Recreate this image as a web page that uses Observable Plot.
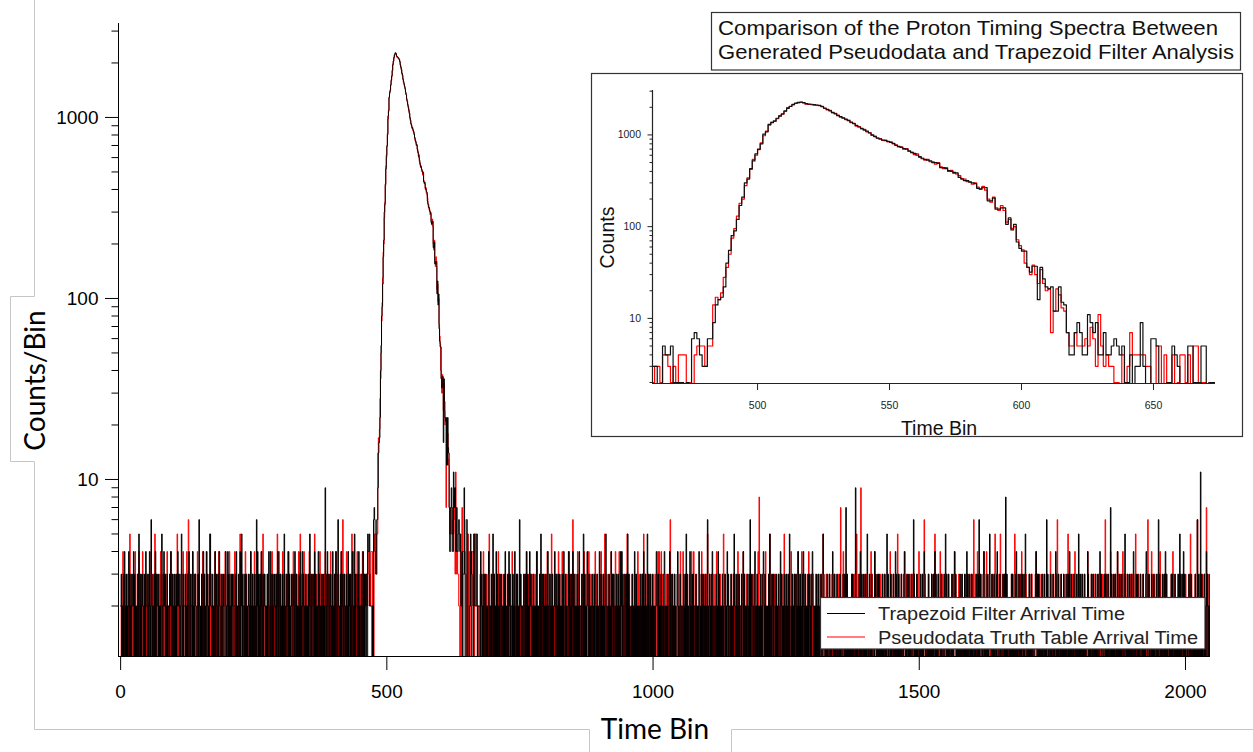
<!DOCTYPE html>
<html>
<head>
<meta charset="utf-8">
<script src="https://cdn.jsdelivr.net/npm/d3@7"></script>
<script src="https://cdn.jsdelivr.net/npm/@observablehq/plot@0.6"></script>
<style>
  html, body { margin: 0; padding: 0; background: #fff; }
  body { width: 1253px; height: 752px; overflow: hidden; position: relative; font-family: "Liberation Sans", Arial, sans-serif; }
  #main, #inset, #overlay { position: absolute; }
  #main { left: 0; top: 0; }
  #inset { left: 591px; top: 73px; background: #fff; }
  #overlay { left: 0; top: 0; pointer-events: none; }
</style>
</head>
<body>
<div id="main"></div>
<div id="inset"></div>
<svg id="overlay" width="1253" height="752" xmlns="http://www.w3.org/2000/svg"></svg>
<script>
// ---------------- DATA ----------------
const seriesNames = ["Trapezoid Filter Arrival Time", "Pseudodata Truth Table Arrival Time"];
const titleLines = ["Comparison of the Proton Timing Spectra Between", "Generated Pseudodata and Trapezoid Filter Analysis"];

// Background counts per bin (one base-36 character per bin), bins 0..459
const trapLeftNoise = [
  "2312031421 3120241302 1322413021 2031521312 3212031422",
  "1302412631 2213041322 3120213521 1423021302 2132401312",
  "3021312423 1203521302 2312031241 1322041213 3210231621",
  "2031241302 1423120352 2130213412 3021342103 1232013421",
  "2413021312 3102231402 1320412531 2213031202 3120421312",
  "1302162413 2031421302 3212031241 1402312032 2130241321",
  "3120312502 1232041312 2301321421 3120231402 1423021312",
  "2031252130 1320413021 2413021302 3120931241 1302312041",
  "2130421362 1203412302 3021321413 2130241205 1322031412",
  "2031241302"
];
const truthLeftNoise = [
  "1203412302 2130213512 3201321402 1320412031 2413021302",
  "3021312403 1302512031 2130241312 3201321402 1230413021",
  "2130215302 3021312401 1320413612 2031241302 3102413021",
  "1230412302 2413021503 3120213402 1302412031 2031324102",
  "3102412031 1320413021 2031512302 3120413210 1302412031",
  "2413021302 1302413512 3120213021 2031412302 1320513402",
  "3021412031 1302413021 2031421302 3120412503 1203412031",
  "2130412302 3021512031 1302412030 2031412302 3120421302",
  "1302412031 2130412602 3021412031 1302514021 2031412302",
  "3120412031"
];

// Proton peak, bins 460..673
const peakStartBin = 460;
const trapPeak = [
  3,3,1,1,5,4,4,5,2,2,
  2,2,1,2,1,6,7,6,4,3,
  3,6,6,9,14,16,17,22,40,55,
  80,90,120,170,210,300,330,430,520,620,
  700,800,1020,1080,1300,1360,1420,1520,1600,1700,
  1830,1950,2050,2150,2220,2260,2280,2250,2190,2170,
  2160,2140,2120,2100,2030,1960,1900,1830,1760,1700,
  1620,1580,1520,1490,1430,1380,1330,1270,1220,1180,
  1130,1100,1050,1000,960,920,900,880,866,850,
  830,810,770,750,730,710,700,670,640,630,
  600,580,550,540,530,520,500,500,490,440,
  440,430,408,400,390,385,345,330,318,318,
  305,300,295,262,258,267,267,191,191,205,
  155,155,160,160,106,125,92,106,68,58,
  54,54,36,32,37,37,16,36,27,22,
  21,22,12,12,22,15,14,7,4,4,
  7,9,7,4,4,11,9,7,9,4,
  4,7,4,4,5,6,5,4,5,2,
  2,4,1,3,3,9,3,1,1,6,
  6,5,1,1,1,2,2,5,4,3,
  1,1,1,5,5,2,2,2,5,5,
  1,2,2,2
];
const truthPeak = [
  2,3,3,2,4,4,3,2,3,2,
  4,4,4,2,2,1,4,5,5,5,
  3,5,5,14,17,16,19,28,36,50,
  75,95,130,180,200,280,340,420,540,600,
  690,820,980,1100,1280,1380,1400,1500,1620,1680,
  1800,1980,2040,2120,2200,2240,2260,2230,2160,2150,
  2140,2110,2100,2080,2050,1940,1880,1850,1740,1720,
  1640,1560,1540,1470,1450,1360,1340,1250,1230,1160,
  1150,1080,1060,990,970,930,910,870,880,840,
  840,800,780,740,740,700,710,660,650,610,
  620,570,560,530,540,510,510,480,500,450,
  430,440,400,410,380,375,360,335,330,310,
  310,290,300,270,255,275,250,200,185,210,
  160,150,170,150,112,120,96,100,72,62,
  56,40,36,30,38,30,24,34,24,20,
  21,7,12,21,18,13,12,7,5,5,
  7,5,5,5,6,5,8,6,3,11,
  5,3,4,3,3,2,2,1,4,1,
  3,7,4,4,4,4,4,3,3,1,
  1,5,5,1,4,1,2,4,1,2,
  4,4,2,4,1,5,5,2,2,2,
  1,2,2,1
];

// Background counts per bin after the peak, bins 674..end
const trapRightNoise = [
  "2142312031 1320213412 2031251302 1413021302 3102213041",
  "1203142312 2130214013 1302162312 2013213041 3120423102",
  "1302021412 2103150231 3021302142 1230213012 2402312031",
  "3120213041 1302102413 2031241302 1213021402 2130150312",
  "1243213021 2310213012 1302142031 2130213520 1203120413",
  "2031021312 1320142413 2103213051 3120120312 1402312021",
  "2130213142 1302150312 3021302102 1243213021 2310213412",
  "1203102413 2130213021 1342102312 2013213051 3120140213",
  "1302213021 2143120312 3021302162 1230213402 2102312041",
  "3120213021 1302142312 2031201352 1213021302 2130140312",
  "1203213061 2310213412 1302102031 2134213021 1203150213",
  "2031021312 1320142312 2103213021 3150120312 1302312041",
  "2130213142 1302120312 3021342102 1203213021 2310253012",
  "1203102312 2134213021 1302102312 2013213071 3120120213",
  "1302219021 2103140312 3021302152 1230213012 2142312031",
  "3120213021 1302152312 2031201302 1413021302 2130120342",
  "1203213021 2310263012 1302102031 2130243021 1203120213",
  "2031041312 1320102312 2103253021 3120120312 1342312021",
  "2130213102 1302140312 3021302102 1203213061 2310213412",
  "1203102352 2130213021 1342102312 2013213081 3120120213",
  "1302213041 2103120312 3021352102 1230213012 2102342031",
  "3120213021 1302162312 2031201302 1243021302 2130120312",
  "1203213041 2310213012 1302152031 2130213021 1243120213",
  "2031021312 1320142312 2103213021 3120170312 1302312041",
  "2130213102 1352120312 3021302142 1203213021 2310213012",
  "1243102312 2130213021 1302162312 2013213041 3120120213",
  "1302213021 2103150312 3041302102 1230213012 2102312061",
  "3120b13021 1302142312 2031201302"
];
const truthRightNoise = [
  "1302102413 2031201352 1213021302 2130140312 3021302102",
  "2130213021 1402312021 3120120312 2103213041 1320102312",
  "3021302142 1203213021 2310213412 1302150312 2130213142",
  "1203142312 2013213041 1302162312 3120423102 2130214013",
  "2031241302 1213021402 3120213041 2130150312 1302102413",
  "1302142031 1243213021 2130213520 2310213012 1203120413",
  "2103213051 2031021312 3120120312 1320142413 1402312021",
  "3021302162 1302213021 1230213402 2143120312 2102312041",
  "1342102312 1203102413 2013213051 2130213021 3120140213",
  "2031201352 3120213021 1213021302 1302142312 2130140312",
  "1302102031 1203213021 2134283021 2310213412 1203150213",
  "2103213021 2031021312 3150120312 1320142312 1302312041",
  "3021342102 2130213142 1203213021 1302120312 2310253012",
  "1302102312 1203102312 2013213071 2134213021 3120120213",
  "3021302152 1302219021 1230213012 2103140312 2142312031",
  "2031201302 3120213021 1413021302 1302152312 2130120342",
  "1302102031 1203213021 2130243021 2310263012 1203120213",
  "2103253021 2031041312 3120120312 1320102312 1342312021",
  "3021302102 2130213102 1203213061 1302140312 2310213412",
  "1342102312 1203102352 2013213051 2130213021 3120120213",
  "3021352102 1302213041 1230213012 2103120312 2102342031",
  "2031201302 3120213021 1243021302 1302162312 2130120312",
  "1302152031 1203213041 2130213021 2310213012 1243120213",
  "2103213021 2031021312 3120160312 1320142312 1302312041",
  "3021302142 2130213102 1203213021 1352120312 2310213012",
  "1302162312 1243102312 2013213041 2130213021 3120120213",
  "3041302102 1302213021 1230213012 2103150312 2102312061",
  "2031201302 1302172312 3120213021"
];

// Axis ticks
const mainXTicks = [0, 500, 1000, 1500, 2000];
const mainYLabelTicks = [10, 100, 1000];
const mainYMinorTicks = [2,3,4,5,6,7,8,9,20,30,40,50,60,70,80,90,200,300,400,500,600,700,800,900,2000,3000];
const insetXTicks = [500, 550, 600, 650];
const insetYLabelTicks = [10, 100, 1000];
const insetYMinorTicks = [2,3,4,5,6,7,8,9,20,30,40,50,60,70,80,90,200,300,400,500,600,700,800,900,2000,3000];

// ---------------- BUILD ----------------
function decode(lines) {
  return lines.join("").replace(/\s+/g, "").split("").map(c => parseInt(c, 36));
}
function build(left, peak, right) {
  const out = [];
  decode(left).forEach((v, i) => { if (i < peakStartBin) out.push({bin: i, v}); });
  peak.forEach((v, i) => out.push({bin: peakStartBin + i, v}));
  const rs = peakStartBin + peak.length;
  decode(right).forEach((v, i) => out.push({bin: rs + i, v}));
  return out;
}
const trap = build(trapLeftNoise, trapPeak, trapRightNoise);
const truth = build(truthLeftNoise, truthPeak, truthRightNoise);
const yv = d => Math.max(d.v, 0.5);
const fmt = d => String(d);

// ---------------- MAIN CHART ----------------
const mainXDomain = [-4, 2047];
const mainYDomain = [1.052, 3304];
const main = Plot.plot({
  width: 1253, height: 752,
  marginLeft: 118, marginRight: 43, marginTop: 23, marginBottom: 96,
  style: {background: "transparent", fontFamily: "'Liberation Sans', Arial, sans-serif", color: "#000", overflow: "visible"},
  x: {domain: mainXDomain, label: null},
  y: {type: "log", domain: mainYDomain, label: null},
  marks: [
    Plot.line(truth, {x: "bin", y: yv, curve: "step-after", stroke: "#ff0000", strokeWidth: 1, clip: true}),
    Plot.line(trap, {x: "bin", y: yv, curve: "step-after", stroke: "#000", strokeWidth: 1, clip: true}),
    Plot.axisY({ticks: mainYMinorTicks, tickSize: 6.5, fill: "none", label: null}),
    Plot.axisY({ticks: mainYLabelTicks, tickSize: 13, tickPadding: 7, fontSize: 19, tickFormat: fmt, label: null}),
    Plot.axisX({ticks: mainXTicks, tickSize: 14, tickPadding: 14, fontSize: 19, tickFormat: fmt, label: null}),
    Plot.ruleX([mainXDomain[0]], {stroke: "#000"}),
    Plot.ruleY([mainYDomain[0]], {stroke: "#000"})
  ]
});
document.getElementById("main").appendChild(main);

// ---------------- INSET ----------------
const insetXDomain = [460.2, 673.5];
const insetYDomain = [1.95, 3050];
const inset = Plot.plot({
  width: 652, height: 364,
  marginLeft: 61, marginRight: 28, marginTop: 17, marginBottom: 54,
  style: {background: "#fff", fontFamily: "'Liberation Sans', Arial, sans-serif", color: "#222", overflow: "visible"},
  x: {domain: insetXDomain, label: null},
  y: {type: "log", domain: insetYDomain, label: null},
  marks: [
    Plot.line(truth, {x: "bin", y: yv, curve: "step-after", stroke: "#ff0000", strokeWidth: 1.2, clip: true}),
    Plot.line(trap, {x: "bin", y: yv, curve: "step-after", stroke: "#111", strokeWidth: 1.2, clip: true}),
    Plot.axisY({ticks: insetYMinorTicks, tickSize: 2.5, fill: "none", label: null}),
    Plot.axisY({ticks: insetYLabelTicks, tickSize: 4.5, tickPadding: 7, fontSize: 10.5, tickFormat: fmt, label: null}),
    Plot.axisX({ticks: insetXTicks, tickSize: 7, tickPadding: 11, fontSize: 10.5, tickFormat: fmt, label: null}),
    Plot.ruleX([insetXDomain[0]], {stroke: "#222", strokeWidth: 1.2}),
    Plot.ruleY([insetYDomain[0]], {stroke: "#222", strokeWidth: 1.2})
  ]
});
document.getElementById("inset").appendChild(inset);

// ---------------- OVERLAY (frame, labels, title, legend) ----------------
const ov = d3.select("#overlay");
ov.append("polyline")
  .attr("points", "34.5,0 34.5,296.5 10.5,296.5 10.5,461.5 34.5,461.5 34.5,729.5 589.5,729.5 589.5,753")
  .attr("fill", "none").attr("stroke", "#c6c6c6").attr("stroke-width", 1);
ov.append("polyline")
  .attr("points", "731.5,753 731.5,729.5 1254,729.5")
  .attr("fill", "none").attr("stroke", "#c6c6c6").attr("stroke-width", 1);

ov.append("text").text("Counts/Bin")
  .attr("transform", "translate(45,380.5) rotate(-90)")
  .attr("text-anchor", "middle").attr("font-family", "Lato, 'Open Sans', sans-serif")
  .attr("font-size", 28).attr("fill", "#000");
ov.append("text").text("Time Bin")
  .attr("x", 655).attr("y", 739)
  .attr("text-anchor", "middle").attr("font-family", "Lato, 'Open Sans', sans-serif")
  .attr("font-size", 28).attr("fill", "#000");

// inset frame and labels
ov.append("rect").attr("x", 591.5).attr("y", 73.5).attr("width", 651).attr("height", 363)
  .attr("fill", "none").attr("stroke", "#333").attr("stroke-width", 1.2);
ov.append("text").text("Counts")
  .attr("transform", "translate(614,237.5) rotate(-90)")
  .attr("text-anchor", "middle").attr("font-family", "'Liberation Sans', Arial, sans-serif")
  .attr("font-size", 19.5).attr("fill", "#111");
ov.append("text").text("Time Bin")
  .attr("x", 939).attr("y", 435)
  .attr("text-anchor", "middle").attr("font-family", "'Liberation Sans', Arial, sans-serif")
  .attr("font-size", 19.5).attr("fill", "#111");

// title box
ov.append("rect").attr("x", 711.5).attr("y", 12.5).attr("width", 529).attr("height", 57.5)
  .attr("fill", "#fff").attr("stroke", "#333").attr("stroke-width", 1.2);
const titleLens = [500, 516];
titleLines.forEach((t, i) => {
  ov.append("text").text(t)
    .attr("x", 718).attr("y", 35 + i * 24)
    .attr("font-family", "'Liberation Sans', Arial, sans-serif")
    .attr("font-size", 21).attr("fill", "#111")
    .attr("textLength", titleLens[i]).attr("lengthAdjust", "spacingAndGlyphs");
});

// legend
ov.append("rect").attr("x", 820.5).attr("y", 597.5).attr("width", 384.5).attr("height", 51.5)
  .attr("fill", "#fff").attr("stroke", "#333").attr("stroke-width", 1.2);
const legendColors = ["#000", "#ff0000"];
const legendLens = [247, 320];
seriesNames.forEach((name, i) => {
  const y = 613.5 + i * 23.5;
  ov.append("line").attr("x1", 827).attr("x2", 865).attr("y1", y).attr("y2", y)
    .attr("stroke", legendColors[i]).attr("stroke-width", 1.2);
  ov.append("text").text(name)
    .attr("x", 878).attr("y", y + 6.5)
    .attr("font-family", "'Liberation Sans', Arial, sans-serif")
    .attr("font-size", 18).attr("fill", "#222")
    .attr("textLength", legendLens[i]).attr("lengthAdjust", "spacingAndGlyphs");
});
</script>
</body>
</html>
